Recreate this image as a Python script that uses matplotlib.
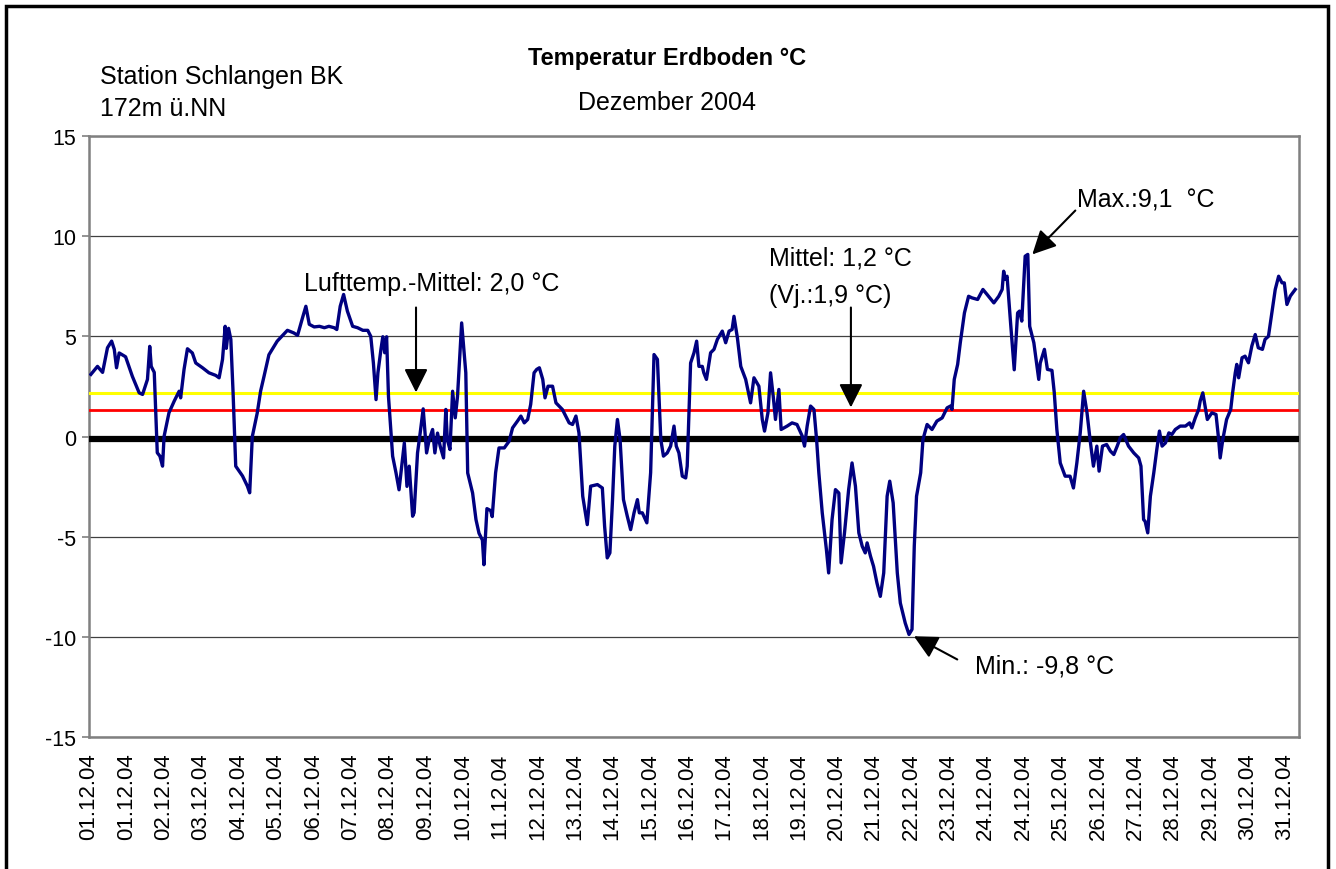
import matplotlib
matplotlib.use("Agg")
import matplotlib.pyplot as plt
from matplotlib.patches import Rectangle

plt.rcParams['font.family'] = ['Liberation Sans', 'DejaVu Sans']
plt.rcParams['axes.unicode_minus'] = False

# position along the time axis (in label slots) and soil temperature in °C
pos = [
    -0.06, 0.115, 0.25, 0.38, 0.49, 0.56, 0.62, 0.69, 0.86, 1.04, 1.22, 1.31, 1.44, 1.5, 1.54,
    1.62, 1.7, 1.77, 1.84, 1.88, 2.01, 2.15, 2.28, 2.32, 2.41, 2.5, 2.63, 2.72, 2.9, 3.07,
    3.25, 3.34, 3.43, 3.5, 3.53, 3.59, 3.65, 3.71, 3.78, 3.96, 4.09, 4.15, 4.22, 4.35, 4.44,
    4.53, 4.66, 4.88, 5.15, 5.32, 5.42, 5.55, 5.64, 5.73, 5.86, 6.0, 6.13, 6.25, 6.39, 6.46,
    6.55, 6.64, 6.74, 6.88, 7.01, 7.15, 7.28, 7.36, 7.43, 7.5, 7.55, 7.63, 7.68, 7.73, 7.78,
    7.83, 7.94, 8.03, 8.11, 8.25, 8.32, 8.38, 8.47, 8.51, 8.6, 8.67, 8.75, 8.84, 8.91, 9.0,
    9.06, 9.13, 9.2, 9.29, 9.35, 9.39, 9.46, 9.53, 9.6, 9.66, 9.77, 9.88, 9.93, 10.06, 10.15,
    10.23, 10.32, 10.36, 10.44, 10.54, 10.58, 10.67, 10.76, 10.9, 11.03, 11.12, 11.25, 11.34,
    11.43, 11.52, 11.6, 11.69, 11.76, 11.83, 11.92, 11.98, 12.06, 12.18, 12.27, 12.44, 12.62,
    12.71, 12.8, 12.88, 12.98, 13.1, 13.19, 13.37, 13.5, 13.56, 13.63, 13.7, 13.77, 13.83,
    13.9, 13.97, 14.06, 14.16, 14.25, 14.34, 14.43, 14.48, 14.56, 14.68, 14.78, 14.87, 14.96,
    15.05, 15.12, 15.22, 15.31, 15.4, 15.46, 15.53, 15.62, 15.71, 15.75, 15.84, 15.93, 16.0,
    16.06, 16.15, 16.19, 16.26, 16.37, 16.46, 16.55, 16.68, 16.77, 16.86, 16.94, 16.99, 17.08,
    17.17, 17.3, 17.43, 17.52, 17.65, 17.74, 17.8, 17.89, 17.96, 18.03, 18.09, 18.18, 18.24,
    18.4, 18.53, 18.66, 18.8, 18.86, 18.93, 19.02, 19.11, 19.18, 19.24, 19.33, 19.44, 19.5,
    19.59, 19.68, 19.77, 19.83, 19.92, 20.03, 20.12, 20.21, 20.3, 20.39, 20.47, 20.52, 20.61,
    20.69, 20.78, 20.87, 20.96, 21.05, 21.12, 21.21, 21.32, 21.4, 21.53, 21.63, 21.71, 21.77,
    21.83, 21.94, 22.0, 22.11, 22.24, 22.37, 22.51, 22.64, 22.73, 22.77, 22.83, 22.92, 22.99,
    23.1, 23.21, 23.3, 23.45, 23.59, 23.7, 23.88, 24.01, 24.1, 24.14, 24.18, 24.23, 24.33,
    24.42, 24.51, 24.56, 24.62, 24.71, 24.78, 24.83, 24.94, 25.07, 25.11, 25.22, 25.3, 25.42,
    25.48, 25.55, 25.64, 25.77, 25.9, 25.99, 26.08, 26.17, 26.26, 26.35, 26.43, 26.52, 26.61,
    26.67, 26.76, 26.87, 26.97, 27.06, 27.15, 27.23, 27.32, 27.45, 27.59, 27.72, 27.78, 27.85,
    27.89, 27.96, 28.03, 28.12, 28.2, 28.27, 28.34, 28.43, 28.52, 28.6, 28.69, 28.82, 28.96,
    29.07, 29.13, 29.22, 29.31, 29.35, 29.42, 29.48, 29.54, 29.66, 29.77, 29.84, 29.88, 29.95,
    30.05, 30.16, 30.21, 30.28, 30.32, 30.37, 30.46, 30.54, 30.63, 30.72, 30.81, 30.89, 31.0,
    31.07, 31.16, 31.25, 31.34, 31.43, 31.52, 31.58, 31.65, 31.74, 31.87,
]
temp = [
    3.1, 3.5, 3.2, 4.43, 4.76, 4.35, 3.43, 4.17, 3.98, 3.0, 2.18, 2.1, 2.85, 4.5, 3.5,
    3.2, -0.81, -0.98, -1.48, 0.0, 1.18, 1.77, 2.26, 1.93, 3.35, 4.38, 4.17, 3.67, 3.43, 3.18,
    3.05, 2.93, 3.85, 5.5, 4.4, 5.4, 4.85, 2.18, -1.48, -1.97, -2.48, -2.81, 0.0, 1.17, 2.27,
    3.0, 4.08, 4.76, 5.3, 5.17, 5.05, 5.92, 6.5, 5.6, 5.47, 5.5, 5.43, 5.5, 5.43, 5.34,
    6.5, 7.09, 6.26, 5.5, 5.43, 5.3, 5.3, 5.0, 3.67, 1.84, 3.18, 4.35, 4.98, 4.18, 4.98,
    2.0, -0.98, -1.82, -2.66, -0.32, -2.49, -1.48, -3.98, -3.8, -0.82, 0.17, 1.38, -0.82, -0.15, 0.35,
    -0.82, 0.17, -0.48, -1.07, 1.35, -0.15, -0.65, 2.26, 0.93, 2.0, 5.67, 3.18, -1.82, -2.82, -4.15,
    -4.83, -5.17, -6.4, -3.6, -3.7, -4.0, -1.81, -0.57, -0.57, -0.23, 0.43, 0.77, 1.02,
    0.68, 0.85, 1.6, 3.18, 3.35, 3.43, 2.85, 1.93, 2.51, 2.51, 1.68, 1.35, 0.68,
    0.6, 1.02, 0.18, -2.98, -4.4, -2.48, -2.4, -2.57, -4.48, -6.06, -5.81, -3.15, -0.48,
    0.85, -0.15, -3.15, -3.97, -4.65, -3.81, -3.15, -3.81, -3.81, -4.31, -1.81, 4.09, 3.85,
    -0.15, -0.98, -0.82, -0.48, 0.52, -0.48, -0.82, -1.98, -2.07, -1.48, 3.67, 4.18, 4.76,
    3.5, 3.5, 3.18, 2.85, 4.18, 4.35, 4.85, 5.26, 4.68, 5.26, 5.34, 6.0, 4.93,
    3.5, 2.85, 1.68, 2.93, 2.51, 0.85, 0.27, 1.18, 3.18, 2.01, 0.85, 2.35, 0.35,
    0.52, 0.68, 0.6, 0.02, -0.48, 0.52, 1.52, 1.35, -0.15, -1.81, -3.81, -5.64, -6.81,
    -4.15, -2.65, -2.82, -6.31, -4.81, -2.65, -1.32, -2.48, -4.81, -5.48, -5.81, -5.31, -5.98,
    -6.48, -7.31, -7.98, -6.81, -2.98, -2.23, -3.31, -6.81, -8.31, -9.31, -9.88, -9.63, -5.47,
    -2.98, -1.81, -0.15, 0.6, 0.35, 0.77, 0.93, 1.43, 1.52, 1.35, 2.85, 3.6, 4.68,
    6.17, 7.0, 6.92, 6.84, 7.34, 7.09, 6.67, 7.0, 7.34, 8.25, 7.84, 8.0, 5.5,
    3.33, 6.17, 6.26, 5.76, 9.0, 9.09, 5.5, 4.68, 2.85, 3.67, 4.35, 3.35, 3.3,
    2.22, 0.35, -1.32, -1.98, -1.98, -2.57, -1.32, 0.18, 2.26, 1.18, -0.15, -1.48, -0.48,
    -1.73, -0.48, -0.4, -0.73, -0.9, -0.48, -0.07, 0.1, -0.48, -0.82, -1.07, -1.48, -4.15,
    -4.23, -4.81, -2.98, -1.81, -0.65, 0.27, -0.48, -0.32, 0.18, 0.1, 0.35, 0.52, 0.52,
    0.68, 0.43, 0.93, 1.35, 1.77, 2.18, 1.52, 0.85, 1.18, 1.1, -0.15, -1.07, -0.15,
    0.85, 1.35, 2.18, 3.18, 3.6, 2.93, 3.93, 4.01, 3.68, 4.52, 5.09, 4.43, 4.35,
    4.85, 5.0, 6.17, 7.34, 8.0, 7.67, 7.67, 6.59, 7.01, 7.34,
]

# reference lines as drawn in the chart
luft_mittel = 2.18
boden_mittel = 1.32
null_linie = -0.14

tick_labels = ['01.12.04', '01.12.04', '02.12.04', '03.12.04', '04.12.04', '05.12.04',
               '06.12.04', '07.12.04', '08.12.04', '09.12.04', '10.12.04', '11.12.04',
               '12.12.04', '13.12.04', '14.12.04', '15.12.04', '16.12.04', '17.12.04',
               '18.12.04', '19.12.04', '20.12.04', '21.12.04', '22.12.04', '23.12.04',
               '24.12.04', '24.12.04', '25.12.04', '26.12.04', '27.12.04', '28.12.04',
               '29.12.04', '30.12.04', '31.12.04']
tick_pos = [-0.11 + 0.9907 * i for i in range(len(tick_labels))]

W, H = 1336, 870
fig = plt.figure(figsize=(W / 100, H / 100), dpi=100)
ax = fig.add_axes([89 / W, 132 / H, (1299 - 89) / W, 601 / H])

ax.plot(pos, temp, color='#000080', lw=2.4, zorder=5)
ax.axhline(luft_mittel, color='#FFFF00', lw=2.2, zorder=3)
ax.axhline(boden_mittel, color='#FF0000', lw=2.0, zorder=3)
ax.axhline(null_linie, color='black', lw=4.5, zorder=4)

ax.set_xlim(-0.08, 31.97)
ax.set_ylim(-15, 15)
ax.set_yticks(range(-15, 16, 5))
ax.yaxis.grid(True, color='#404040', lw=0.9)
ax.set_axisbelow(True)
ax.set_xticks(tick_pos)
ax.set_xticklabels(tick_labels, rotation=90, fontsize=16)
ax.tick_params(axis='x', length=0, pad=11)
ax.tick_params(axis='y', length=5, width=1.2, color='#808080', pad=4, labelsize=15.5)
for s in ax.spines.values():
    s.set_color('#808080')
    s.set_linewidth(1.8)

# texts
fig.text(667 / W, 1 - 58 / H, 'Temperatur Erdboden °C', ha='center', va='center',
         fontsize=17, fontweight='bold')
fig.text(667 / W, 1 - 103 / H, 'Dezember 2004', ha='center', va='center', fontsize=18)
fig.text(100 / W, 1 - 77 / H, 'Station Schlangen BK', ha='left', va='center', fontsize=18)
fig.text(100 / W, 1 - 109 / H, '172m ü.NN', ha='left', va='center', fontsize=18)

ax.text(5.59, 7.64, 'Lufttemp.-Mittel: 2,0 °C', ha='left', va='center', fontsize=18)
ax.text(17.91, 8.94, 'Mittel: 1,2 °C', ha='left', va='center', fontsize=18)
ax.text(17.91, 7.04, '(Vj.:1,9 °C)', ha='left', va='center', fontsize=18)
ax.text(26.09, 11.83, 'Max.:9,1  °C', ha='left', va='center', fontsize=18)
ax.text(23.39, -11.43, 'Min.: -9,8 °C', ha='left', va='center', fontsize=18)

arrow = dict(arrowstyle='-|>,head_length=0.72,head_width=0.36', mutation_scale=20,
             color='black', lw=1.5, shrinkA=0, shrinkB=0)
ax.annotate('', xy=(8.56, 2.2), xytext=(8.56, 6.44), arrowprops=arrow, annotation_clip=False)
ax.annotate('', xy=(20.09, 1.45), xytext=(20.09, 6.44), arrowprops=arrow, annotation_clip=False)
ax.annotate('', xy=(24.9, 9.09), xytext=(26.04, 11.28), arrowprops=arrow, annotation_clip=False)
ax.annotate('', xy=(21.76, -9.97), xytext=(22.91, -11.13), arrowprops=arrow, annotation_clip=False)

# outer chart frame
fig.add_artist(Rectangle((6 / W, -0.05), (1328 - 6) / W, 1.05 - 7 / H,
                         transform=fig.transFigure, fill=False, ec='black', lw=2.5))

fig.savefig('out.png', dpi=100)
